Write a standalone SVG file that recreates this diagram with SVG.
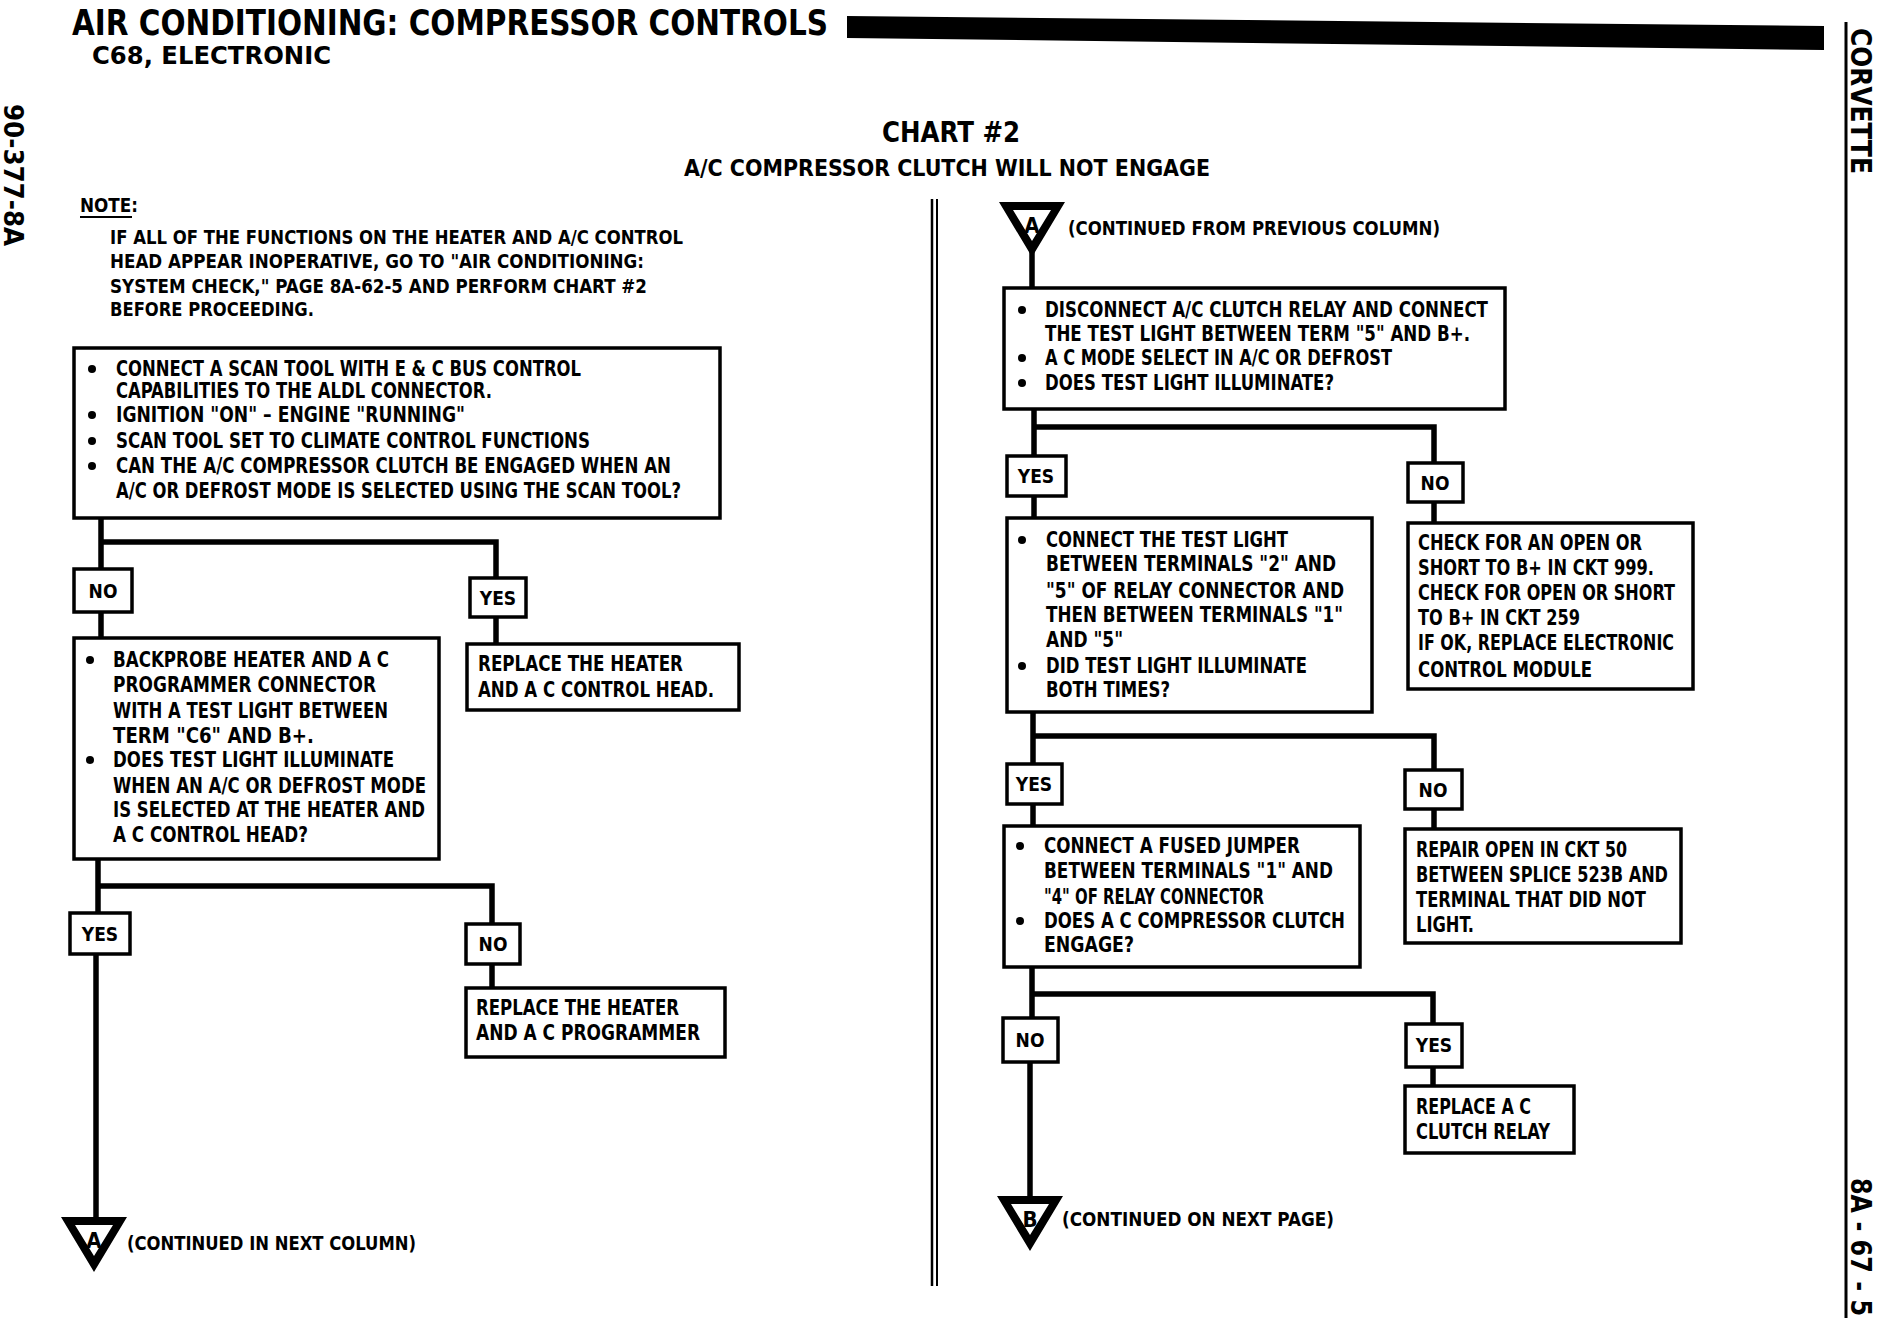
<svg xmlns="http://www.w3.org/2000/svg" xmlns:xlink="http://www.w3.org/1999/xlink" width="1880" height="1328" viewBox="0 0 1880 1328">
<style>
.t{font-family:"Liberation Sans Narrow","DejaVu Sans Condensed","Liberation Sans",Arial,sans-serif;font-weight:bold;fill:#000}
.bt{font-size:21px}
.lt{font-size:19px;text-anchor:middle}
.bx{fill:#fff;stroke:#000;stroke-width:3.5}
.cn{fill:none;stroke:#000;stroke-width:5.5;stroke-linejoin:miter;stroke-linecap:square}
.rule{stroke:#000;fill:none}
</style>
<defs>
<path id="tri" d="M0,0 L66,0 L33,55 Z M14,8 L52,8 L33,39 Z" fill="#000" fill-rule="evenodd"/>
</defs>
<rect width="1880" height="1328" fill="#fff"/>

<g id="header">
<text class="t" x="72" y="35" font-size="35" textLength="756" lengthAdjust="spacingAndGlyphs">AIR CONDITIONING:  COMPRESSOR CONTROLS</text>
<text class="t" x="92" y="64" font-size="25" textLength="239" lengthAdjust="spacingAndGlyphs">C68, ELECTRONIC</text>
<polygon points="847,16 1824,26 1824,50 847,38" fill="#000"/>
<line class="rule" x1="1846" y1="22" x2="1846" y2="1318" stroke-width="3"/>
<text class="t" x="1851" y="28" font-size="29" textLength="146" lengthAdjust="spacingAndGlyphs" transform="rotate(90 1851 28)">CORVETTE</text>
<text class="t" x="1851" y="1178" font-size="29" textLength="138" lengthAdjust="spacingAndGlyphs" transform="rotate(90 1851 1178)">8A - 67 - 5</text>
<text class="t" x="4" y="104" font-size="26" textLength="142" lengthAdjust="spacingAndGlyphs" transform="rotate(90 4 104)">90-377-8A</text>
<text class="t" x="882" y="142" font-size="28" textLength="138" lengthAdjust="spacingAndGlyphs">CHART #2</text>
<text class="t" x="684" y="176" font-size="23" textLength="526" lengthAdjust="spacingAndGlyphs">A/C COMPRESSOR CLUTCH WILL NOT ENGAGE</text>
<line class="rule" x1="932" y1="199" x2="932" y2="1286" stroke-width="2.5"/>
<line class="rule" x1="937" y1="199" x2="937" y2="1286" stroke-width="2"/>
</g>

<g id="note">
<text class="t" x="80" y="212" font-size="20" textLength="58" lengthAdjust="spacingAndGlyphs">NOTE:</text>
<line x1="80" y1="217" x2="132" y2="217" stroke="#000" stroke-width="2"/>
<text class="t" x="110" y="244" font-size="20" textLength="573" lengthAdjust="spacingAndGlyphs">IF ALL OF THE FUNCTIONS ON THE HEATER AND A/C CONTROL</text>
<text class="t" x="110" y="268" font-size="20" textLength="534" lengthAdjust="spacingAndGlyphs">HEAD APPEAR INOPERATIVE, GO TO "AIR CONDITIONING:</text>
<text class="t" x="110" y="293" font-size="20" textLength="537" lengthAdjust="spacingAndGlyphs">SYSTEM CHECK," PAGE 8A-62-5 AND PERFORM CHART #2</text>
<text class="t" x="110" y="316" font-size="20" textLength="204" lengthAdjust="spacingAndGlyphs">BEFORE PROCEEDING.</text>
</g>

<g id="connectors">
<path class="cn" d="M101,518 V569 M101,542 H496 V578"/>
<path class="cn" d="M101,612 V638"/>
<path class="cn" d="M496,617 V644"/>
<path class="cn" d="M98,859 V913 M98,886 H492 V924"/>
<path class="cn" d="M492,964 V988"/>
<path class="cn" d="M96,954 V1219"/>
<path class="cn" d="M1032,250 V288"/>
<path class="cn" d="M1034,409 V456 M1034,427 H1434 V463"/>
<path class="cn" d="M1034,496 V518"/>
<path class="cn" d="M1434,502 V523"/>
<path class="cn" d="M1033,712 V764 M1033,736 H1434 V770"/>
<path class="cn" d="M1033,804 V826"/>
<path class="cn" d="M1434,809 V829"/>
<path class="cn" d="M1032,967 V1018 M1032,994 H1433 V1024"/>
<path class="cn" d="M1030,1062 V1198"/>
<path class="cn" d="M1433,1067 V1086"/>
</g>

<g id="box1">
<rect class="bx" x="74" y="348" width="646" height="170"/>
<circle cx="92" cy="369" r="4"/><circle cx="92" cy="415" r="4"/><circle cx="92" cy="441" r="4"/><circle cx="92" cy="466" r="4"/>
<text class="t bt" x="116" y="376" textLength="465" lengthAdjust="spacingAndGlyphs">CONNECT A SCAN TOOL WITH E &amp; C BUS CONTROL</text>
<text class="t bt" x="116" y="398" textLength="376" lengthAdjust="spacingAndGlyphs">CAPABILITIES TO THE ALDL CONNECTOR.</text>
<text class="t bt" x="116" y="422" textLength="349" lengthAdjust="spacingAndGlyphs">IGNITION "ON" – ENGINE "RUNNING"</text>
<text class="t bt" x="116" y="448" textLength="474" lengthAdjust="spacingAndGlyphs">SCAN TOOL SET TO CLIMATE CONTROL FUNCTIONS</text>
<text class="t bt" x="116" y="473" textLength="555" lengthAdjust="spacingAndGlyphs">CAN THE A/C COMPRESSOR CLUTCH BE ENGAGED WHEN AN</text>
<text class="t bt" x="116" y="498" textLength="565" lengthAdjust="spacingAndGlyphs">A/C OR DEFROST MODE IS SELECTED USING THE SCAN TOOL?</text>
</g>

<g id="no1"><rect class="bx" x="74" y="569" width="58" height="43"/><text class="t lt" x="103" y="598">NO</text></g>
<g id="yes1"><rect class="bx" x="470" y="578" width="56" height="39"/><text class="t lt" x="498" y="605">YES</text></g>

<g id="replace-head">
<rect class="bx" x="467" y="644" width="272" height="66"/>
<text class="t bt" x="478" y="671" textLength="205" lengthAdjust="spacingAndGlyphs">REPLACE THE HEATER</text>
<text class="t bt" x="478" y="697" textLength="236" lengthAdjust="spacingAndGlyphs">AND A C CONTROL HEAD.</text>
</g>

<g id="box2">
<rect class="bx" x="74" y="638" width="365" height="221"/>
<circle cx="90" cy="660" r="4"/><circle cx="90" cy="760" r="4"/>
<text class="t bt" x="113" y="667" textLength="276" lengthAdjust="spacingAndGlyphs">BACKPROBE HEATER AND A C</text>
<text class="t bt" x="113" y="692" textLength="263" lengthAdjust="spacingAndGlyphs">PROGRAMMER CONNECTOR</text>
<text class="t bt" x="113" y="718" textLength="275" lengthAdjust="spacingAndGlyphs">WITH A TEST LIGHT BETWEEN</text>
<text class="t bt" x="113" y="743" textLength="201" lengthAdjust="spacingAndGlyphs">TERM "C6" AND B+.</text>
<text class="t bt" x="113" y="767" textLength="281" lengthAdjust="spacingAndGlyphs">DOES TEST LIGHT ILLUMINATE</text>
<text class="t bt" x="113" y="793" textLength="313" lengthAdjust="spacingAndGlyphs">WHEN AN A/C OR DEFROST MODE</text>
<text class="t bt" x="113" y="817" textLength="312" lengthAdjust="spacingAndGlyphs">IS SELECTED AT THE HEATER AND</text>
<text class="t bt" x="113" y="842" textLength="195" lengthAdjust="spacingAndGlyphs">A C CONTROL HEAD?</text>
</g>

<g id="yes2"><rect class="bx" x="70" y="913" width="60" height="41"/><text class="t lt" x="100" y="941">YES</text></g>
<g id="no2"><rect class="bx" x="466" y="924" width="54" height="40"/><text class="t lt" x="493" y="951">NO</text></g>

<g id="replace-programmer">
<rect class="bx" x="466" y="988" width="259" height="69"/>
<text class="t bt" x="476" y="1015" textLength="203" lengthAdjust="spacingAndGlyphs">REPLACE THE HEATER</text>
<text class="t bt" x="476" y="1040" textLength="224" lengthAdjust="spacingAndGlyphs">AND A C PROGRAMMER</text>
</g>

<g id="offpage-a-out">
<use xlink:href="#tri" x="61" y="1217"/>
<text class="t" x="94" y="1248" font-size="22" text-anchor="middle">A</text>
<text class="t" x="127" y="1250" font-size="19" textLength="289" lengthAdjust="spacingAndGlyphs">(CONTINUED IN NEXT COLUMN)</text>
</g>

<g id="offpage-a-in">
<use xlink:href="#tri" x="999" y="202"/>
<text class="t" x="1032" y="233" font-size="22" text-anchor="middle">A</text>
<text class="t" x="1068" y="235" font-size="19" textLength="372" lengthAdjust="spacingAndGlyphs">(CONTINUED FROM PREVIOUS COLUMN)</text>
</g>

<g id="r1">
<rect class="bx" x="1004" y="288" width="501" height="121"/>
<circle cx="1022" cy="310" r="4"/><circle cx="1022" cy="358" r="4"/><circle cx="1022" cy="383" r="4"/>
<text class="t bt" x="1045" y="317" textLength="443" lengthAdjust="spacingAndGlyphs">DISCONNECT A/C CLUTCH RELAY AND CONNECT</text>
<text class="t bt" x="1045" y="341" textLength="425" lengthAdjust="spacingAndGlyphs">THE TEST LIGHT BETWEEN TERM "5" AND B+.</text>
<text class="t bt" x="1045" y="365" textLength="347" lengthAdjust="spacingAndGlyphs">A C MODE SELECT IN A/C OR DEFROST</text>
<text class="t bt" x="1045" y="390" textLength="289" lengthAdjust="spacingAndGlyphs">DOES TEST LIGHT ILLUMINATE?</text>
</g>

<g id="r-yes1"><rect class="bx" x="1007" y="456" width="59" height="40"/><text class="t lt" x="1036" y="483">YES</text></g>
<g id="r-no1"><rect class="bx" x="1408" y="463" width="55" height="39"/><text class="t lt" x="1435" y="490">NO</text></g>

<g id="r2">
<rect class="bx" x="1007" y="518" width="365" height="194"/>
<circle cx="1022" cy="540" r="4"/><circle cx="1022" cy="666" r="4"/>
<text class="t bt" x="1046" y="547" textLength="242" lengthAdjust="spacingAndGlyphs">CONNECT THE TEST LIGHT</text>
<text class="t bt" x="1046" y="571" textLength="290" lengthAdjust="spacingAndGlyphs">BETWEEN TERMINALS "2" AND</text>
<text class="t bt" x="1046" y="598" textLength="298" lengthAdjust="spacingAndGlyphs">"5" OF RELAY CONNECTOR AND</text>
<text class="t bt" x="1046" y="622" textLength="297" lengthAdjust="spacingAndGlyphs">THEN BETWEEN TERMINALS "1"</text>
<text class="t bt" x="1046" y="647" textLength="77" lengthAdjust="spacingAndGlyphs">AND "5"</text>
<text class="t bt" x="1046" y="673" textLength="261" lengthAdjust="spacingAndGlyphs">DID TEST LIGHT ILLUMINATE</text>
<text class="t bt" x="1046" y="697" textLength="124" lengthAdjust="spacingAndGlyphs">BOTH TIMES?</text>
</g>

<g id="r3">
<rect class="bx" x="1408" y="523" width="285" height="166"/>
<text class="t bt" x="1418" y="550" textLength="224" lengthAdjust="spacingAndGlyphs">CHECK FOR AN OPEN OR</text>
<text class="t bt" x="1418" y="575" textLength="236" lengthAdjust="spacingAndGlyphs">SHORT TO B+ IN CKT 999.</text>
<text class="t bt" x="1418" y="600" textLength="257" lengthAdjust="spacingAndGlyphs">CHECK FOR OPEN OR SHORT</text>
<text class="t bt" x="1418" y="625" textLength="162" lengthAdjust="spacingAndGlyphs">TO B+ IN CKT 259</text>
<text class="t bt" x="1418" y="650" textLength="256" lengthAdjust="spacingAndGlyphs">IF OK, REPLACE ELECTRONIC</text>
<text class="t bt" x="1418" y="677" textLength="174" lengthAdjust="spacingAndGlyphs">CONTROL MODULE</text>
</g>

<g id="r-yes2"><rect class="bx" x="1007" y="764" width="55" height="40"/><text class="t lt" x="1034" y="791">YES</text></g>
<g id="r-no2"><rect class="bx" x="1405" y="770" width="57" height="39"/><text class="t lt" x="1433" y="797">NO</text></g>

<g id="r4">
<rect class="bx" x="1004" y="826" width="356" height="141"/>
<circle cx="1020" cy="846" r="4"/><circle cx="1020" cy="921" r="4"/>
<text class="t bt" x="1044" y="853" textLength="256" lengthAdjust="spacingAndGlyphs">CONNECT A FUSED JUMPER</text>
<text class="t bt" x="1044" y="878" textLength="289" lengthAdjust="spacingAndGlyphs">BETWEEN TERMINALS "1" AND</text>
<text class="t bt" x="1044" y="904" textLength="220" lengthAdjust="spacingAndGlyphs">"4" OF RELAY CONNECTOR</text>
<text class="t bt" x="1044" y="928" textLength="301" lengthAdjust="spacingAndGlyphs">DOES A C COMPRESSOR CLUTCH</text>
<text class="t bt" x="1044" y="952" textLength="90" lengthAdjust="spacingAndGlyphs">ENGAGE?</text>
</g>

<g id="r5">
<rect class="bx" x="1405" y="829" width="276" height="114"/>
<text class="t bt" x="1416" y="857" textLength="211" lengthAdjust="spacingAndGlyphs">REPAIR OPEN IN CKT 50</text>
<text class="t bt" x="1416" y="882" textLength="252" lengthAdjust="spacingAndGlyphs">BETWEEN SPLICE 523B AND</text>
<text class="t bt" x="1416" y="907" textLength="230" lengthAdjust="spacingAndGlyphs">TERMINAL THAT DID NOT</text>
<text class="t bt" x="1416" y="932" textLength="58" lengthAdjust="spacingAndGlyphs">LIGHT.</text>
</g>

<g id="r-no3"><rect class="bx" x="1003" y="1018" width="55" height="44"/><text class="t lt" x="1030" y="1047">NO</text></g>
<g id="r-yes3"><rect class="bx" x="1406" y="1024" width="56" height="43"/><text class="t lt" x="1434" y="1052">YES</text></g>

<g id="r6">
<rect class="bx" x="1405" y="1086" width="169" height="67"/>
<text class="t bt" x="1416" y="1114" textLength="115" lengthAdjust="spacingAndGlyphs">REPLACE A C</text>
<text class="t bt" x="1416" y="1139" textLength="134" lengthAdjust="spacingAndGlyphs">CLUTCH RELAY</text>
</g>

<g id="offpage-b">
<use xlink:href="#tri" x="997" y="1196"/>
<text class="t" x="1030" y="1227" font-size="22" text-anchor="middle">B</text>
<text class="t" x="1062" y="1226" font-size="19" textLength="272" lengthAdjust="spacingAndGlyphs">(CONTINUED ON NEXT PAGE)</text>
</g>
</svg>
